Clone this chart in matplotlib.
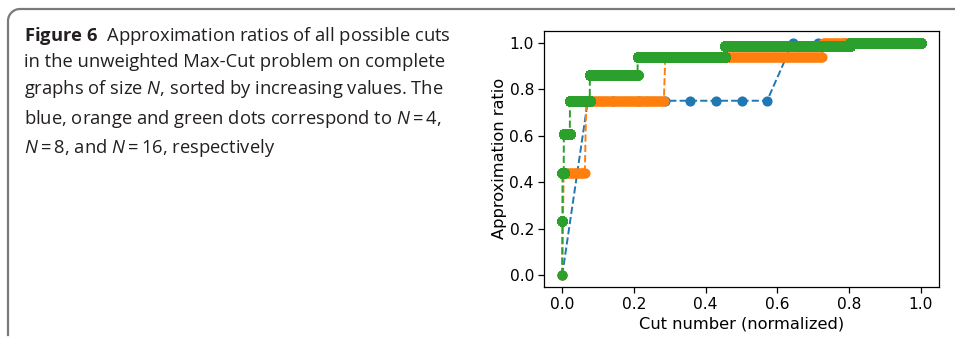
import numpy as np
import matplotlib
matplotlib.use("Agg")
import matplotlib.pyplot as plt
from matplotlib.lines import Line2D

# ---- data: approximation-ratio levels and how many cuts sit on each level ----
n4_levels = [0.0, 0.75, 1.0]
n4_counts = [1, 8, 6]
n8_levels = [0.0, 0.4375, 0.75, 0.9375, 1.0]
n8_counts = [1, 16, 56, 112, 70]
n16_levels = [0.0, 0.234, 0.4375, 0.609, 0.75, 0.859, 0.9375, 0.984, 1.0]
n16_counts = [1, 32, 240, 1120, 3640, 8736, 16016, 22880, 12870]

x_ticks = [0.0, 0.2, 0.4, 0.6, 0.8, 1.0]
y_ticks = [0.0, 0.2, 0.4, 0.6, 0.8, 1.0]

caption = ("$\\mathbf{Figure\\ 6}$  Approximation ratios of all possible cuts\n"
           "in the unweighted Max-Cut problem on complete\n"
           "graphs of size $N$, sorted by increasing values. The\n"
           "blue, orange and green dots correspond to $N=4$,\n"
           "$N=8$, and $N=16$, respectively")

plt.rcParams['mathtext.fontset'] = 'custom'
plt.rcParams['mathtext.rm'] = 'Open Sans'
plt.rcParams['mathtext.it'] = 'Open Sans:italic'
plt.rcParams['mathtext.bf'] = 'Open Sans:bold'

W, H = 955, 339
fig = plt.figure(figsize=(W / 100, H / 100), dpi=100)

# caption frame (rounded corner at top-left, open at the bottom)
frame_col = '#7a7a7a'
r = 12
fx0, fy0 = 8, 9
pts_x = [fx0, fx0]
pts_y = [H - 4, fy0 + r]
th = np.linspace(np.pi, 1.5 * np.pi, 20)
pts_x += list(fx0 + r + r * np.cos(th))
pts_y += list(fy0 + r + r * np.sin(th))
pts_x += [W + 5]
pts_y += [fy0]
fig.add_artist(Line2D(np.array(pts_x) / W, 1 - np.array(pts_y) / H,
                      transform=fig.transFigure, color=frame_col, lw=1.6))

fig.text(24 / W, 1 - 25 / H, caption, ha='left', va='top', fontsize=13.2,
         family='Open Sans', color='#231f20', linespacing=1.45)

ax = fig.add_axes([544.3 / W, 1 - 286.7 / H, (938.7 - 544.3) / W, (286.7 - 31) / H])

def expand(levels, counts):
    y = np.repeat(np.array(levels), np.array(counts))
    x = np.arange(len(y)) / (len(y) - 1)
    return x, y

for lv, ct in [(n4_levels, n4_counts), (n8_levels, n8_counts), (n16_levels, n16_counts)]:
    x, y = expand(lv, ct)
    ax.plot(x, y, 'o--', markersize=6.3, linewidth=1.4)

ax.set_xticks(x_ticks)
ax.set_yticks(y_ticks)
ax.set_xticklabels([f"{v:.1f}" for v in x_ticks])
ax.set_yticklabels([f"{v:.1f}" for v in y_ticks])
ax.tick_params(labelsize=11.2, length=4, width=0.9)
for s in ax.spines.values():
    s.set_linewidth(0.9)
ax.set_xlabel('Cut number (normalized)', fontsize=11.7, labelpad=3)
ax.set_ylabel('Approximation ratio', fontsize=11.7, labelpad=2)

fig.savefig('out.png', dpi=100)
